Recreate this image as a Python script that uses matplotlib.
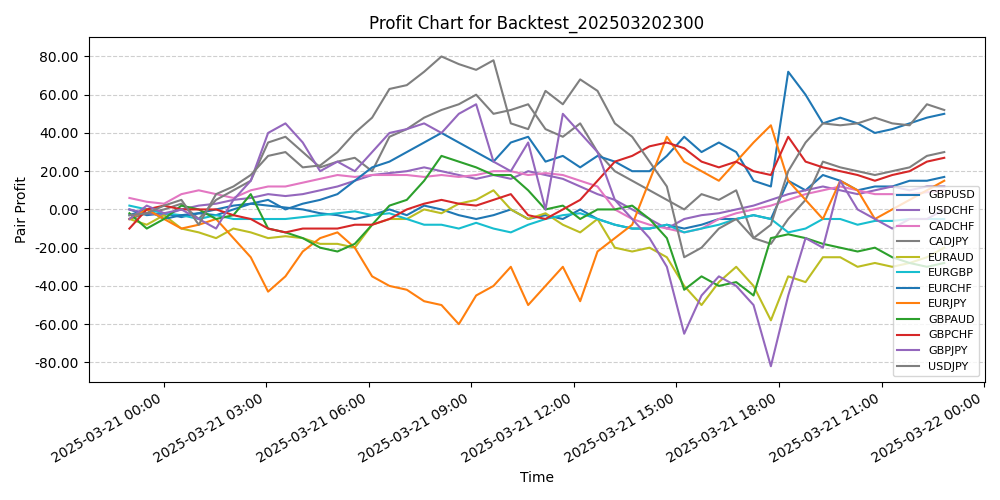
import matplotlib
matplotlib.use("Agg")
import matplotlib.pyplot as plt
import matplotlib.dates as mdates
from matplotlib.ticker import FormatStrFormatter
import pandas as pd

# roughly half-hourly samples over the backtest window
times = pd.date_range("2025-03-20 23:00", "2025-03-21 22:50", periods=48)

gbpusd = [0, -3, -2, -4, -2, -3, 0, 3, 2, 1, 0, -2, -3, -5, -3, 0, -3, 2, 0, -3, -5, -3, 0, -5,
          -3, -5, 0, -5, -8, -10, -10, -8, -10, -8, -5, -5, -3, -5, 15, 10, 18, 15, 10, 12, 12, 15, 15, 17]
usdchf = [0, -2, -3, 0, 2, 3, 5, 6, 8, 7, 8, 10, 12, 15, 18, 19, 20, 22, 20, 18, 16, 18, 16, 20,
          18, 16, 12, 8, 5, 0, -5, -10, -5, -3, -2, 0, 2, 5, 8, 10, 12, 10, 8, 10, 12, 10, 12, 12]
cadchf = [6, 4, 3, 8, 10, 8, 6, 10, 12, 12, 14, 16, 18, 17, 18, 18, 18, 17, 18, 17, 18, 20, 20, 18,
          19, 18, 15, 12, 0, -5, -8, -10, -12, -10, -5, -2, 0, 2, 5, 8, 10, 12, 10, 8, 8, 8, 9, 10]
cadjpy = [-5, -2, 0, 3, -5, 5, 10, 15, 35, 38, 30, 22, 25, 27, 20, 38, 42, 48, 52, 55, 60, 50, 52, 55,
          42, 38, 45, 30, 20, 15, 10, 5, 0, 8, 5, 10, -15, -18, -5, 5, 25, 22, 20, 18, 20, 22, 28, 30]
euraud = [-5, -8, -3, -10, -12, -15, -10, -12, -15, -14, -15, -18, -18, -20, -8, -5, -5, 0, -2, 3, 5, 10, 0, -5,
          -2, -8, -12, -5, -20, -22, -20, -25, -40, -50, -38, -30, -40, -58, -35, -38, -25, -25, -30, -28, -30, -28, -25, -20]
eurgbp = [2, 0, -2, -3, -5, -3, -5, -5, -5, -5, -4, -3, -2, -1, -3, -2, -5, -8, -8, -10, -7, -10, -12, -8,
          -5, -3, -2, -5, -8, -10, -10, -8, -12, -10, -8, -5, -3, -5, -12, -10, -5, -5, -8, -6, -6, -5, -5, -5]
eurchf = [-3, 0, -5, -3, -2, 0, 2, 3, 5, 0, 3, 5, 8, 15, 22, 25, 30, 35, 40, 35, 30, 25, 35, 38,
          25, 28, 22, 28, 25, 20, 20, 28, 38, 30, 35, 30, 15, 12, 72, 60, 45, 48, 45, 40, 42, 45, 48, 50]
eurjpy = [-5, 0, -5, -10, -8, -5, -15, -25, -43, -35, -22, -15, -12, -20, -35, -40, -42, -48, -50, -60, -45, -40, -30, -50,
          -40, -30, -48, -22, -15, -8, 15, 38, 25, 20, 15, 25, 35, 44, 15, 5, -5, 15, 10, -5, 0, 5, 10, 15]
gbpaud = [-2, -10, -5, 2, 0, -5, -3, 8, -10, -12, -15, -20, -22, -18, -8, 2, 5, 15, 28, 25, 22, 18, 18, 10,
          0, 2, -5, 0, 0, 2, -5, -15, -42, -35, -40, -38, -45, -15, -13, -15, -18, -20, -22, -20, -25, -28, -30, -28]
gbpchf = [-10, 0, 2, 0, 0, 0, -3, -5, -10, -12, -10, -10, -10, -8, -8, -5, 0, 3, 5, 3, 2, 5, 8, -3,
          -5, 0, 5, 15, 25, 28, 33, 35, 32, 25, 22, 25, 20, 18, 38, 25, 22, 20, 18, 15, 18, 20, 25, 27]
gbpjpy = [-5, 2, -2, 0, -5, -10, 5, 15, 40, 45, 35, 20, 25, 20, 30, 40, 42, 45, 40, 50, 55, 25, 20, 35,
          0, 50, 40, 30, 5, -5, -15, -30, -65, -45, -35, -40, -50, -82, -45, -15, -20, 15, 0, -5, -10, -5, -5, 0]
usdjpy = [-3, -2, 2, 5, -8, 8, 12, 18, 28, 30, 22, 23, 30, 40, 48, 63, 65, 72, 80, 76, 73, 78, 45, 42,
          62, 55, 68, 62, 45, 38, 25, 12, -25, -20, -10, -5, -15, -8, 20, 35, 45, 44, 45, 48, 45, 44, 55, 52]

series = [
    ("GBPUSD", gbpusd, "tab:blue"),
    ("USDCHF", usdchf, "tab:purple"),
    ("CADCHF", cadchf, "tab:pink"),
    ("CADJPY", cadjpy, "tab:gray"),
    ("EURAUD", euraud, "tab:olive"),
    ("EURGBP", eurgbp, "tab:cyan"),
    ("EURCHF", eurchf, "tab:blue"),
    ("EURJPY", eurjpy, "tab:orange"),
    ("GBPAUD", gbpaud, "tab:green"),
    ("GBPCHF", gbpchf, "tab:red"),
    ("GBPJPY", gbpjpy, "tab:purple"),
    ("USDJPY", usdjpy, "tab:gray"),
]

fig, ax = plt.subplots(figsize=(10, 5), dpi=100)
for name, vals, color in series:
    ax.plot(times, vals, color=color, label=name, linewidth=1.5)

ax.set_title("Profit Chart for Backtest_202503202300")
ax.set_xlabel("Time")
ax.set_ylabel("Pair Profit")
ax.yaxis.set_major_formatter(FormatStrFormatter("%.2f"))
ax.set_ylim(-90, 90)
ax.set_yticks(range(-80, 81, 20))
ax.xaxis.set_major_locator(mdates.HourLocator(byhour=range(0, 24, 3)))
ax.xaxis.set_major_formatter(mdates.DateFormatter("%Y-%m-%d %H:%M"))
ax.grid(axis="y", linestyle="--", alpha=0.6)
ax.legend(loc="lower right", fontsize=8)
fig.autofmt_xdate()
fig.tight_layout()
fig.savefig("out.png")
